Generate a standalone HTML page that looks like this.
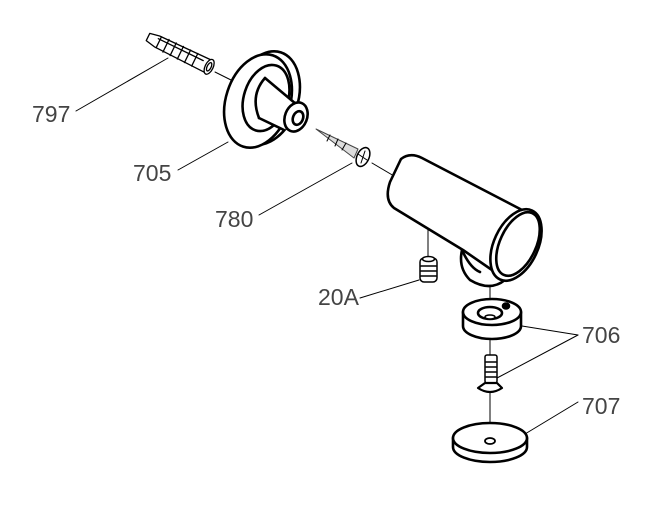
<!DOCTYPE html>
<html><head><style>html,body{margin:0;padding:0;background:#fff}svg{display:block}text{font-family:"Liberation Sans",sans-serif;font-size:23px;fill:#444}</style></head>
<body>
<svg width="663" height="516" viewBox="0 0 663 516" xmlns="http://www.w3.org/2000/svg">
<g fill="none" stroke="#000" stroke-linecap="round" stroke-linejoin="round">
<g stroke-width="1">
<line x1="76" y1="111" x2="168" y2="58"/>
<line x1="178" y1="170" x2="228" y2="142"/>
<line x1="259" y1="215" x2="352" y2="163"/>
<line x1="215" y1="72" x2="231" y2="80"/>
<line x1="372" y1="163" x2="394" y2="176"/>
<line x1="360" y1="298" x2="419" y2="280"/>
<line x1="428" y1="228" x2="428" y2="256"/>
<line x1="490" y1="262" x2="490" y2="440"/>
<line x1="522" y1="326" x2="578" y2="335"/>
<line x1="497" y1="378" x2="578" y2="335"/>
<line x1="525" y1="434" x2="578" y2="402"/>
</g>
<g transform="translate(148,37) rotate(26)" stroke-width="1.3" fill="#fff">
<path d="M0,-4 L10,-6 L66,-7 L66,7 L10,6 L0,4 Z"/>
<line x1="12" y1="-6" x2="12" y2="6"/><line x1="20" y1="-7" x2="20" y2="7"/>
<line x1="28" y1="-7" x2="28" y2="7"/><line x1="36" y1="-7" x2="36" y2="7"/>
<line x1="44" y1="-7" x2="44" y2="7"/><line x1="52" y1="-7" x2="52" y2="7"/>
<line x1="10" y1="-3" x2="60" y2="-3"/>
<ellipse cx="68" cy="0" rx="4" ry="8"/><ellipse cx="68" cy="0" rx="2" ry="4.5"/>
</g>
<g stroke-width="2.6" fill="#fff">
<ellipse cx="266" cy="98" rx="32" ry="48" transform="rotate(18 266 98)"/>
<ellipse cx="258" cy="101" rx="32" ry="48" transform="rotate(18 258 101)"/>
<ellipse cx="266" cy="98" rx="22" ry="34" transform="rotate(18 266 98)"/>
<path d="M265,78 L295,104 L285,130 L258,118 Z" stroke="none"/>
<path d="M265,78 Q250,95 259,118"/>
<path d="M265,78 L296,104"/><path d="M259,118 L284,130"/>
<ellipse cx="296" cy="117" rx="11" ry="15" transform="rotate(22 296 117)"/>
<ellipse cx="298" cy="118" rx="5" ry="7" transform="rotate(22 298 118)"/>
</g>
<g stroke-width="1" fill="#fff">
<path d="M316,129 L358,149 L354,158 Z" fill="#ddd" stroke="#444"/>
<line x1="330" y1="135" x2="327" y2="141"/><line x1="338" y1="139" x2="335" y2="146"/><line x1="346" y1="143" x2="342" y2="150"/>
<ellipse cx="363" cy="157" rx="6" ry="10" transform="rotate(25 363 157)" stroke-width="1.5"/>
<line x1="358" y1="154" x2="367" y2="160"/><line x1="365" y1="151" x2="361" y2="163"/>
</g>
<g stroke-width="2.6" fill="#fff">
<path d="M462,250 Q458,268 470,280 Q490,292 505,280 L490,255 Z"/>
<path d="M401,159 Q410,152 422,158 L524,211 L505,279 L463,250 L394,208 Q384,200 390,182 Z"/>
<path d="M462,250 Q470,268 480,272"/>
<ellipse cx="516" cy="245" rx="22" ry="38" transform="rotate(25 516 245)"/>
<ellipse cx="518" cy="244" rx="18" ry="34" transform="rotate(25 518 244)"/>
</g>
<g stroke-width="1.5" fill="#fff">
<rect x="420" y="258" width="17" height="24" rx="4"/>
<line x1="421" y1="266" x2="436" y2="266"/><line x1="421" y1="271" x2="436" y2="271"/><line x1="421" y1="276" x2="436" y2="276"/>
<ellipse cx="428.5" cy="259" rx="6" ry="2.5"/>
</g>
<g stroke-width="2.6" fill="#fff">
<path d="M463,312 L463,326 A29,13 0 0 0 521,326 L521,312"/>
<ellipse cx="492" cy="312" rx="29" ry="13"/>
<ellipse cx="490" cy="313" rx="12" ry="6"/>
<ellipse cx="490" cy="317" rx="5" ry="2" stroke-width="1.5"/>
<ellipse cx="506" cy="306" rx="3" ry="2.5" fill="#000"/>
</g>
<g stroke-width="1.5" fill="#fff">
<rect x="485" y="355" width="12" height="28" rx="2"/>
<line x1="486" y1="362" x2="496" y2="362"/><line x1="486" y1="367" x2="496" y2="367"/><line x1="486" y1="372" x2="496" y2="372"/><line x1="486" y1="377" x2="496" y2="377"/>
<path d="M485,383 L478,388 Q490,396 502,388 L497,383 Z" stroke-width="2.2"/>
</g>
<g stroke-width="2.6" fill="#fff">
<path d="M453,438 L453,447 A37,15 0 0 0 527,447 L527,438"/>
<ellipse cx="490" cy="438" rx="37" ry="15"/>
<ellipse cx="490" cy="441" rx="5" ry="3" stroke-width="1.8"/>
</g>
</g>
<text x="32" y="122">797</text>
<text x="133" y="181">705</text>
<text x="215" y="227">780</text>
<text x="318" y="305">20A</text>
<text x="582" y="343">706</text>
<text x="582" y="414">707</text>
</svg>
</body></html>
